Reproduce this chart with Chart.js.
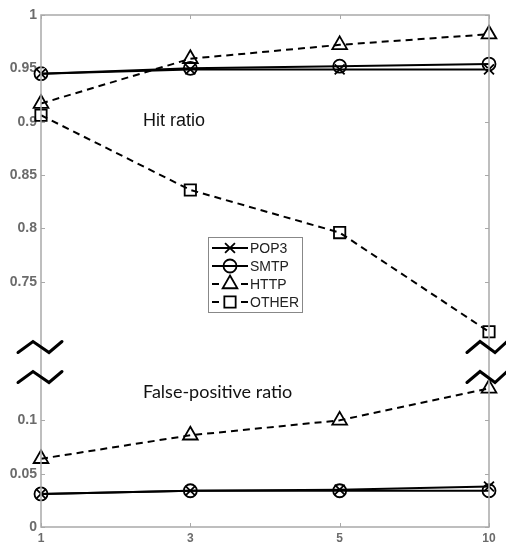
<!DOCTYPE html>
<html>
<head>
<meta charset="utf-8">
<script src="https://cdn.jsdelivr.net/npm/chart.js@4/dist/chart.umd.min.js"></script>
<style>
  html, body { margin: 0; padding: 0; background: #fff; }
  canvas { display: block; }
</style>
</head>
<body>
<canvas id="chart" width="506" height="545"></canvas>
<script>
// x categories (evenly spaced in the figure)
const xLabels = ['1', '3', '5', '10'];

// hit ratio (upper part of the broken axis)
const pop3Hit = [0.945, 0.949, 0.949, 0.949];
const smtpHit = [0.945, 0.950, 0.952, 0.954];
const httpHit = [0.917, 0.959, 0.972, 0.982];
const otherHit = [0.906, 0.836, 0.796, 0.703];

// false-positive ratio (lower part)
const pop3Fp = [0.031, 0.034, 0.035, 0.038];
const smtpFp = [0.031, 0.034, 0.034, 0.034];
const httpFp = [0.064, 0.086, 0.100, 0.130];

const yTickValues = [0, 0.05, 0.1, 0.75, 0.8, 0.85, 0.9, 0.95, 1];

// broken axis: 0..0.15 and 0.7..1 share one linear scale
const LOW_TOP = 0.15;
const HIGH_BOTTOM = 0.7;
const GAP = 0.03;

function toAxis(v) {
    return v <= LOW_TOP ? v : v - HIGH_BOTTOM + LOW_TOP + GAP;
}

const styles = {
    POP3:  { dash: [],     pointStyle: 'crossRot', radius: 7 },
    SMTP:  { dash: [],     pointStyle: 'circle',   radius: 6.5 },
    HTTP:  { dash: [7, 5], pointStyle: 'triangle', radius: 8.5 },
    OTHER: { dash: [7, 5], pointStyle: 'rect',     radius: 8 }
};

function makeDataset(name, values) {
    const s = styles[name];
    return {
        label: name,
        data: values.map(toAxis),
        borderColor: '#000',
        borderWidth: 2,
        borderDash: s.dash,
        pointStyle: s.pointStyle,
        pointRadius: s.radius,
        pointBorderWidth: 1.8,
        pointBorderColor: '#000',
        pointBackgroundColor: 'rgba(0,0,0,0)',
        tension: 0,
        clip: false
    };
}

const datasets = [
    makeDataset('POP3', pop3Hit),
    makeDataset('SMTP', smtpHit),
    makeDataset('HTTP', httpHit),
    makeDataset('OTHER', otherHit),
    makeDataset('POP3', pop3Fp),
    makeDataset('SMTP', smtpFp),
    makeDataset('HTTP', httpFp)
];

const legendNames = ['POP3', 'SMTP', 'HTTP', 'OTHER'];

const decorPlugin = {
    id: 'decor',
    afterDraw(chart) {
        const ctx = chart.ctx;
        const a = chart.chartArea;
        const xs = chart.scales.x;
        const ys = chart.scales.y;
        ctx.save();

        // box and inward ticks
        ctx.strokeStyle = '#a9a9a9';
        ctx.lineWidth = 1.5;
        ctx.strokeRect(a.left, a.top, a.right - a.left, a.bottom - a.top);
        ctx.lineWidth = 1;
        ys.ticks.forEach(t => {
            const y = Math.round(ys.getPixelForValue(t.value)) + 0.5;
            ctx.beginPath();
            ctx.moveTo(a.left, y); ctx.lineTo(a.left + 4, y);
            ctx.moveTo(a.right, y); ctx.lineTo(a.right - 4, y);
            ctx.stroke();
        });
        xLabels.forEach((l, i) => {
            const x = Math.round(xs.getPixelForValue(i)) + 0.5;
            ctx.beginPath();
            ctx.moveTo(x, a.bottom); ctx.lineTo(x, a.bottom - 4);
            ctx.moveTo(x, a.top); ctx.lineTo(x, a.top + 4);
            ctx.stroke();
        });

        // break marks
        const pb = ys.getPixelForValue(LOW_TOP);
        ctx.strokeStyle = '#000';
        ctx.lineWidth = 3;
        ctx.lineJoin = 'miter';
        ctx.lineCap = 'round';
        const zig = (x0, dx, yc) => {
            ctx.beginPath();
            ctx.moveTo(x0 + dx[0], yc + 5.5);
            ctx.lineTo(x0 + dx[1], yc - 5.5);
            ctx.lineTo(x0 + dx[2], yc + 5.5);
            ctx.lineTo(x0 + dx[3], yc - 5.5);
            ctx.stroke();
        };
        [pb - 20, pb + 10].forEach(yc => {
            zig(a.left, [-23, -8, 8, 21], yc);
            zig(a.right, [-22, -9, 6, 18], yc);
        });

        // annotations
        ctx.fillStyle = '#111';
        ctx.textBaseline = 'middle';
        ctx.font = '18px "Liberation Sans", Arial, sans-serif';
        ctx.fillText('Hit ratio', a.left + 102, a.top + 106);
        ctx.font = '18px Lato, "Open Sans", sans-serif';
        ctx.fillText('False-positive ratio', a.left + 102, a.top + 377);

        // legend box
        const lx = a.left + 167;
        const ly = a.top + 222;
        ctx.fillStyle = '#fff';
        ctx.fillRect(lx, ly, 94, 75);
        ctx.strokeStyle = '#888';
        ctx.lineWidth = 1;
        ctx.strokeRect(lx + 0.5, ly + 0.5, 94, 75);
        ctx.font = '14px "Liberation Sans", Arial, sans-serif';
        legendNames.forEach((name, i) => {
            const s = styles[name];
            const y = ly + 11 + i * 18;
            ctx.strokeStyle = '#000';
            ctx.lineWidth = 2;
            ctx.lineCap = 'butt';
            ctx.setLineDash(s.dash.length ? [7, 22] : []);
            ctx.beginPath();
            ctx.moveTo(lx + 4, y);
            ctx.lineTo(lx + 40, y);
            ctx.stroke();
            ctx.setLineDash([]);
            ctx.lineWidth = 1.8;
            ctx.fillStyle = 'rgba(0,0,0,0)';
            Chart.helpers.drawPoint(ctx, {
                pointStyle: s.pointStyle,
                radius: s.radius,
                rotation: 0,
                borderWidth: 1.8
            }, lx + 22, y);
            ctx.fillStyle = '#222';
            ctx.fillText(name, lx + 42, y + 1);
        });
        ctx.restore();
    }
};

const tickFont = { family: '"Liberation Sans", Arial, sans-serif', size: 14, weight: 'bold' };

new Chart(document.getElementById('chart'), {
    type: 'line',
    data: { labels: xLabels, datasets: datasets },
    options: {
        responsive: false,
        animation: false,
        layout: { padding: { top: 15, right: 17, left: 0, bottom: 0 } },
        plugins: {
            legend: { display: false },
            tooltip: { enabled: false }
        },
        scales: {
            x: {
                grid: { display: false, drawTicks: false },
                border: { display: false },
                ticks: { color: '#6b6b6b', font: { ...tickFont, size: 12 }, padding: 4, maxRotation: 0 },
                afterFit(s) { s.height = 18; }
            },
            y: {
                min: 0,
                max: toAxis(1),
                grid: { display: false, drawTicks: false },
                border: { display: false },
                afterBuildTicks(s) {
                    s.ticks = yTickValues.map(v => ({ value: toAxis(v) }));
                },
                ticks: {
                    color: '#6b6b6b',
                    font: tickFont,
                    padding: 4,
                    callback: (value, index) => String(yTickValues[index])
                },
                afterFit(s) { s.width = 41; }
            }
        }
    },
    plugins: [decorPlugin]
});
</script>
</body>
</html>
